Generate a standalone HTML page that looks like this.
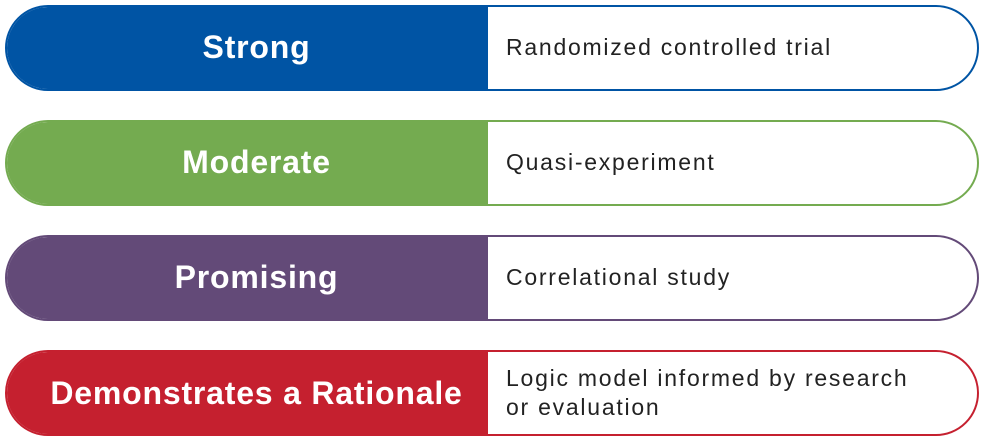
<!DOCTYPE html>
<html><head><style>
body{margin:0;width:985px;height:441px;background:#fff;font-family:"Liberation Sans",sans-serif;position:relative;overflow:hidden}
.r{position:absolute;left:5px;width:974px;height:86px;box-sizing:border-box;border:2px solid;border-radius:43px;overflow:hidden;background:#fff}
.l{position:absolute;left:0;top:0;bottom:0;width:481px;padding-left:18px;padding-bottom:2px;box-sizing:border-box;display:flex;align-items:center;justify-content:center;color:#fff;font-weight:bold;font-size:32px;letter-spacing:0.8px}
.t{position:absolute;left:499px;top:0;bottom:2px;display:flex;align-items:center;font-size:23px;letter-spacing:1.75px;color:#222;line-height:29px}
</style></head><body>
<div class="r" style="top:5px;border-color:#0054a4"><div class="l" style="background:#0054a4">Strong</div><div class="t">Randomized controlled trial</div></div>
<div class="r" style="top:120px;border-color:#74ab50"><div class="l" style="background:#74ab50">Moderate</div><div class="t">Quasi-experiment</div></div>
<div class="r" style="top:235px;border-color:#634a78"><div class="l" style="background:#634a78">Promising</div><div class="t">Correlational study</div></div>
<div class="r" style="top:350px;border-color:#c5202f"><div class="l" style="background:#c5202f;padding-bottom:0">Demonstrates a Rationale</div><div class="t" style="bottom:0">Logic model informed by research<br>or evaluation</div></div>
</body></html>
